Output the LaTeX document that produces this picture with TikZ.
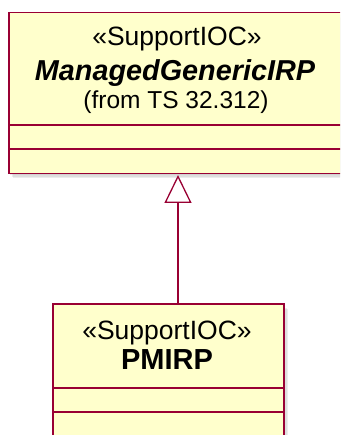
\documentclass[tikz,border=0pt]{standalone}
\usepackage{fontspec}
\setmainfont{Liberation Sans}
\usetikzlibrary{arrows.meta}
\definecolor{umlfill}{RGB}{255,255,204}
\definecolor{umlline}{RGB}{153,0,51}
\definecolor{umlshadow}{RGB}{170,170,170}
\begin{document}
\begin{tikzpicture}[x=1pt,y=-1pt,
  classbox/.style={draw=umlline, fill=umlfill, line width=1.5pt, rectangle, anchor=north west, inner sep=0pt},
  shadowbox/.style={fill=umlshadow, opacity=0.22, rectangle, anchor=north west, inner sep=0pt, draw=none},
  sepline/.style={draw=umlline, line width=1.5pt},
  txt/.style={inner sep=0pt, anchor=base, text=black},
  gen/.style={draw=umlline, line width=1.3pt, -{Triangle[open, length=28pt, width=27pt, fill=white]}}
]
\useasboundingbox (0,0) rectangle (340,435);
\clip (0,0) rectangle (340,435);
% top class
\foreach \d in {2,3.5,5}{\node[shadowbox, minimum width=340pt, minimum height=160pt] at (8+\d,13+\d) {};}
\node[classbox, minimum width=340pt, minimum height=161pt] (top) at (8,12) {};
\draw[sepline] (8,125) -- (348,125);
\draw[sepline] (8,149) -- (348,149);
\node[txt, font=\fontsize{26.5}{30}\selectfont] (tster) at (177,46) {«SupportIOC»};
\node[txt, font=\fontsize{28.8}{32}\selectfont\bfseries\itshape] (tname) at (175,81) {ManagedGenericIRP};
\node[txt, font=\fontsize{24.5}{28}\selectfont] (tfrom) at (176,109) {(from TS 32.312)};
% bottom class
\foreach \d in {2,3.5,5}{\node[shadowbox, minimum width=231pt, minimum height=140pt] at (52+\d,304+\d) {};}
\node[classbox, minimum width=231pt, minimum height=140pt] (bot) at (52,303) {};
\draw[sepline] (52,388) -- (283,388);
\draw[sepline] (52,412) -- (283,412);
\node[txt, font=\fontsize{26.5}{30}\selectfont] (bster) at (167,339) {«SupportIOC»};
\node[txt, font=\fontsize{29}{32}\selectfont\bfseries] (bname) at (167,369) {PMIRP};
% generalization
\coordinate (gx) at (178,0);
\draw[gen] (bot.north -| gx) -- ([yshift=-0.5pt]top.south -| gx);
\end{tikzpicture}
\end{document}
